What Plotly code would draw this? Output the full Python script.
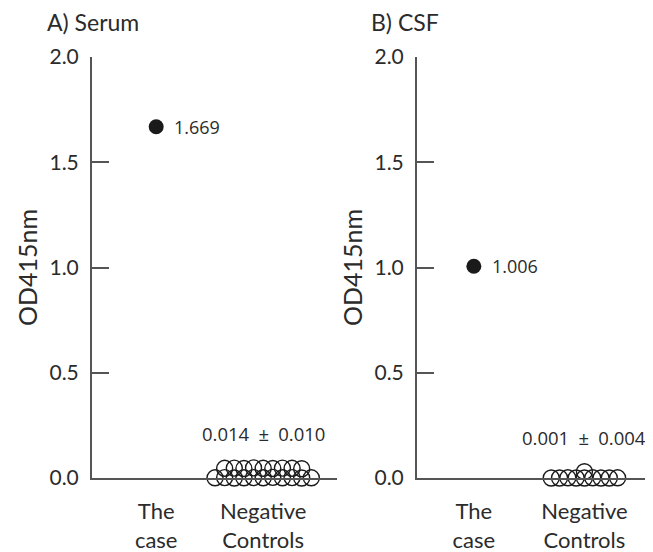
import plotly.graph_objects as go
import numpy as np

# ---- data ----
panels = ["A) Serum", "B) CSF"]
categories = ["The<br>case", "Negative<br>Controls"]
case_values = [1.669, 1.006]
case_labels = ["1.669", "1.006"]
control_summary = ["0.014\u2002\u00b1\u20020.010", "0.001\u2002\u00b1\u20020.004"]
serum_controls = [0.046, 0.047, 0.045, 0.048, 0.046, 0.045, 0.047, 0.046, 0.044,
                  0.001, 0.002, 0.000, 0.001, 0.002, 0.001, 0.003, 0.001,
                  0.002, 0.000, 0.001]
csf_controls = [0.000, 0.000, 0.001, 0.000, 0.030, 0.000, 0.001, 0.000,
                0.000, 0.001]
y_ticks = [0.0, 0.5, 1.0, 1.5, 2.0]

# page body has an 8px margin; lay out in window pixels minus that offset
OFF = 8
W, H = 653 - OFF, 552 - OFF
FONT = "Lato"
LABFONT = "Open Sans"
DARK = "#2b2b2b"
AX = "#555555"


def px_x(p):
    return (p - OFF) / W


def px_y(p):
    return 1 - (p - OFF) / H


x_domains = [[px_x(92), px_x(337)], [px_x(417), 1.0]]
x_ranges = [[0.40, 2.69], [0.486, 2.62]]
spacing = [0.09, 0.075]
y_domain = [px_y(478), px_y(57)]


def swarm_x(vals, center, step, row_h=0.025):
    vals = np.asarray(vals)
    rows = np.round(vals / row_h).astype(int)
    xs = np.zeros(len(vals))
    for r in np.unique(rows):
        idx = np.where(rows == r)[0]
        n = len(idx)
        offs = (np.arange(n) - (n - 1) / 2) * step
        xs[idx] = center + offs
    return xs


fig = go.Figure()
controls = [serum_controls, csf_controls]
for i in range(2):
    xa = "x" if i == 0 else "x2"
    ya = "y" if i == 0 else "y2"
    fig.add_trace(go.Scatter(
        x=[1], y=[case_values[i]], mode="markers",
        marker=dict(size=15, color="#1a1a1a", line=dict(width=0)),
        xaxis=xa, yaxis=ya, showlegend=False, cliponaxis=False))
    cx = swarm_x(controls[i], 2, spacing[i])
    fig.add_trace(go.Scatter(
        x=cx, y=controls[i], mode="markers",
        marker=dict(size=16, color="rgba(0,0,0,0)", line=dict(width=1.4, color="#1a1a1a")),
        xaxis=xa, yaxis=ya, showlegend=False, cliponaxis=False))

axis_common = dict(showgrid=False, zeroline=False, showline=True,
                   linecolor=AX, linewidth=2, automargin=False)
for i in range(2):
    sfx = "" if i == 0 else "2"
    fig.layout["xaxis" + sfx] = dict(
        axis_common, domain=x_domains[i], range=x_ranges[i],
        tickmode="array", tickvals=[1, 2], ticktext=categories, ticks="",
        ticklabelstandoff=13,
        tickfont=dict(family=FONT, size=22, color=DARK),
        anchor="y" + sfx)
    fig.layout["yaxis" + sfx] = dict(
        axis_common, domain=y_domain, range=[0, 2.0],
        tickmode="array", tickvals=y_ticks,
        ticktext=[f"{v:.1f}" for v in y_ticks],
        ticks="inside", ticklen=17, tickwidth=1.5, tickcolor=AX,
        ticklabelstandoff=7,
        tickfont=dict(family=FONT, size=21, color=DARK),
        title=dict(text="OD415nm", font=dict(family=FONT, size=25, color=DARK),
                   standoff=5),
        anchor="x" + sfx)

annotations = []
title_x = [45, 369]
for i in range(2):
    sfx = "" if i == 0 else "2"
    annotations.append(dict(text=panels[i], xref="paper", yref="paper",
                            x=px_x(title_x[i]), y=px_y(22), xanchor="left",
                            yanchor="middle", showarrow=False,
                            font=dict(family=FONT, size=23, color=DARK)))
    annotations.append(dict(text=case_labels[i], x=1, y=case_values[i],
                            xref="x" + sfx, yref="y" + sfx, xshift=16,
                            xanchor="left", yanchor="middle", showarrow=False,
                            font=dict(family=LABFONT, size=18, color=DARK)))
    annotations.append(dict(text=control_summary[i], x=2, y=max(controls[i]),
                            xref="x" + sfx, yref="y" + sfx, yshift=20,
                            xanchor="center", yanchor="bottom", showarrow=False,
                            font=dict(family=LABFONT, size=18.5, color=DARK)))

fig.update_layout(width=W, height=H, margin=dict(l=0, r=0, t=0, b=0),
                  paper_bgcolor="white", plot_bgcolor="white",
                  annotations=annotations)
fig.write_html("out.html")
